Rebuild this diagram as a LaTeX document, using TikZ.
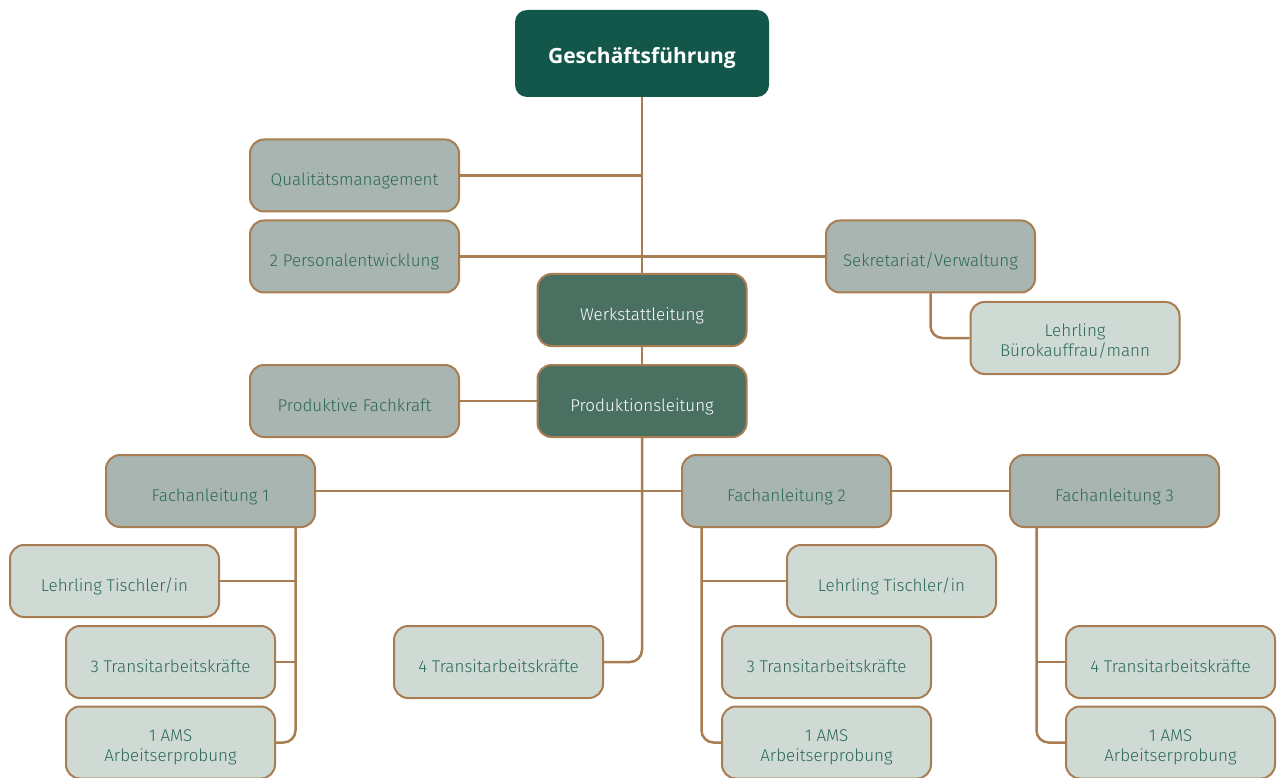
\documentclass[tikz,border=0pt]{standalone}
\usepackage{fontspec}
\setmainfont{Fira Sans Light}
\newfontfamily\headfont{Open Sans Bold}
\usepackage{tikz}
\usetikzlibrary{positioning}
\definecolor{gfgreen}{HTML}{12574A}
\definecolor{leadgreen}{HTML}{4A7062}
\definecolor{midbox}{HTML}{A9B5B0}
\definecolor{lightbox}{HTML}{D0DAD5}
\definecolor{linebrown}{HTML}{A87D52}
\definecolor{txtgreen}{HTML}{2C6954}
\tikzstyle{every box} = [rounded corners=14pt, minimum width=209pt, minimum height=72pt, inner sep=0pt, align=center, font=\fontsize{17}{20}\selectfont, text height=20pt, text depth=0pt]
\tikzstyle{zweizeilig} = [text height=37.4pt, text depth=0pt]
\tikzstyle{stelle} = [draw=linebrown, line width=2pt, fill=midbox, text=txtgreen, every box]
\tikzstyle{hilfe} = [draw=linebrown, line width=2pt, fill=lightbox, text=txtgreen, every box]
\tikzstyle{leitung} = [draw=linebrown, line width=2pt, fill=leadgreen, text=white, every box]
\tikzstyle{link} = [draw=linebrown, line width=2.5pt]

\begin{document}
\begin{tikzpicture}[x=1pt, y=-1pt]
        \useasboundingbox (0,0) rectangle (1278,778);
        \node[fill=gfgreen, rounded corners=12pt, minimum width=254pt, minimum height=87pt, text=white, font=\headfont\fontsize{21}{25}\selectfont, text height=20pt, text depth=0pt] (gf) at (642,53.5) {Geschäftsführung};
        \node[stelle] (qm) at (354.5,175.5) {Qualitätsmanagement};
        \node[stelle] (pe) at (354.5,256.5) {2 Personalentwicklung};
        \node[stelle] (sek) at (930.5,256.5) {Sekretariat/Verwaltung};
        \node[hilfe, zweizeilig] (lbk) at (1075,338) {Lehrling\\Bürokauffrau/mann};
        \node[leitung] (wl) at (642,310) {Werkstattleitung};
        \node[leitung] (pl) at (642,401) {Produktionsleitung};
        \node[stelle] (pf) at (354.5,401) {Produktive Fachkraft};
        \node[stelle] (fa1) at (210.5,491) {Fachanleitung 1};
        \node[stelle] (fa2) at (786.5,491) {Fachanleitung 2};
        \node[stelle] (fa3) at (1114.5,491) {Fachanleitung 3};
        \node[hilfe] (lt1) at (114.5,581) {Lehrling Tischler/in};
        \node[hilfe] (tr1) at (170.5,662) {3 Transitarbeitskräfte};
        \node[hilfe, zweizeilig] (ams1) at (170.5,742.5) {1 AMS\\Arbeitserprobung};
        \node[hilfe] (tr4) at (498.5,662) {4 Transitarbeitskräfte};
        \node[hilfe] (lt2) at (891.5,581) {Lehrling Tischler/in};
        \node[hilfe] (tr2) at (826.5,662) {3 Transitarbeitskräfte};
        \node[hilfe, zweizeilig] (ams2) at (826.5,742.5) {1 AMS\\Arbeitserprobung};
        \node[hilfe] (tr3) at (1170.5,662) {4 Transitarbeitskräfte};
        \node[hilfe, zweizeilig] (ams3) at (1170.5,742.5) {1 AMS\\Arbeitserprobung};

        \coordinate (s1) at ([xshift=85pt]fa1.south);
        \coordinate (s2) at ([xshift=-85pt]fa2.south);
        \coordinate (s3) at ([xshift=-78pt]fa3.south);

        \draw[link] (gf.south) -- (wl.north);
        \draw[link] (qm.east) -- (qm.east -| gf.south);
        \draw[link] (pe.east) -- (sek.west);
        \draw[link] (wl.south) -- (pl.north);
        \draw[link] (pf.east) -- (pl.west);
        \draw[link, rounded corners=12pt] (sek.south) |- (lbk.west);
        \draw[link, rounded corners=12pt] (pl.south) |- (tr4.east);
        \draw[link] (fa1.east) -- (fa2.west);
        \draw[link] (fa2.east) -- (fa3.west);
        \draw[link, rounded corners=12pt] (s1) |- (ams1.east);
        \draw[link] (lt1.east) -- (lt1.east -| s1);
        \draw[link] (tr1.east) -- (tr1.east -| s1);
        \draw[link, rounded corners=12pt] (s2) |- (ams2.west);
        \draw[link] (lt2.west) -- (lt2.west -| s2);
        \draw[link, rounded corners=12pt] (s3) |- (ams3.west);
        \draw[link] (tr3.west) -- (tr3.west -| s3);

    \end{tikzpicture}
\end{document}
